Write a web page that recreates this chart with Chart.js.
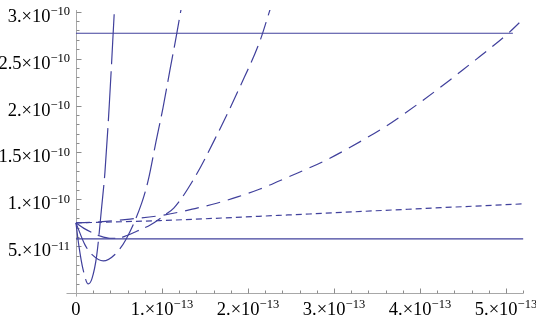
<!DOCTYPE html>
<html>
<head>
<meta charset="utf-8">
<script src="https://cdn.jsdelivr.net/npm/chart.js@4.4.1/dist/chart.umd.min.js"></script>
<style>
  html, body { margin: 0; padding: 0; background: #fff; }
  #wrap { width: 536px; height: 322px; }
</style>
</head>
<body>
<div id="wrap"><canvas id="chart"></canvas></div>
<script>
// x in units of 1e-13, y in units of 1e-11
const curveA_x = [0, 0.035, 0.081, 0.143, 0.186, 0.241, 0.299, 0.337, 0.387, 0.447]
const curveA_y = [7.49, 5.0, 2.6, 0.99, 1.55, 4.0, 9.2, 12.9, 20.0, 30.2]

const curveB_x = [0, 0.105, 0.194, 0.317, 0.453, 0.581, 0.764, 0.841, 0.930, 1.012, 1.093, 1.163, 1.221]
const curveB_y = [7.49, 5.15, 4.06, 3.44, 4.13, 5.73, 9.6, 12.07, 16.12, 19.75, 23.8, 27.21, 30.2]

const curveC_x = [0, 0.093, 0.183, 0.279, 0.395, 0.488, 0.593, 0.706, 0.869, 1.035, 1.140, 1.364, 1.636, 1.907, 2.140, 2.256]
const curveC_y = [7.49, 6.91, 6.48, 6.1, 5.86, 5.86, 6.15, 6.6, 7.3, 8.35, 9.09, 12.07, 16.8, 22.0, 26.9, 30.2]

const curveD_x = [0, 0.279, 0.628, 1.035, 1.384, 1.636, 1.887, 2.140, 2.469, 2.872, 3.148, 3.613, 3.962, 4.349, 4.581, 4.794, 5.047, 5.209]
const curveD_y = [7.49, 7.6, 7.9, 8.35, 9.02, 9.59, 10.29, 11.1, 12.39, 14.02, 15.35, 17.85, 20.07, 22.73, 24.4, 25.93, 27.88, 29.31]

const curveE_x = [0, 0.977, 2.465, 3.860, 5.198]
const curveE_y = [7.49, 7.74, 8.34, 8.95, 9.52]

const levelHigh_x = [0, 5.08]
const levelHigh_y = [27.7, 27.7]
const levelLow_x = [0, 5.2]
const levelLow_y = [5.79, 5.79]

const xTickValues = [0, 1, 2, 3, 4, 5]
const xTickMant = ['0', '1.', '2.', '3.', '4.', '5.']
const xTickExp = ['', '\u221213', '\u221213', '\u221213', '\u221213', '\u221213']

const yTickValues = [5, 10, 15, 20, 25, 30]
const yTickMant = ['5.', '1.', '1.5', '2.', '2.5', '3.']
const yTickExp = ['\u221211', '\u221210', '\u221210', '\u221210', '\u221210', '\u221210']

const X_MIN = -0.11, X_MAX = 5.349, X_AXIS_END = 5.2
const Y_MIN = -0.36, Y_MAX = 30.18

const LINE_COLOR = 'rgb(64,64,156)'
const AXIS_COLOR = '#a8a8a8'
const TICK_COLOR = '#8c8c8c'
const MAIN_FONT = '18.5px "Liberation Serif", "DejaVu Serif", serif'
const SUP_FONT = '12.5px "Liberation Serif", "DejaVu Serif", serif'


function toPoints(xs, ys) {
    return xs.map((x, i) => ({ x: x, y: ys[i] }))
}

function curve(xs, ys, dash) {
    return {
        data: toPoints(xs, ys),
        showLine: true,
        borderColor: LINE_COLOR,
        borderWidth: 1.2,
        borderDash: dash,
        pointRadius: 0,
        cubicInterpolationMode: 'monotone',
        fill: false
    }
}

function drawSciLabel(ctx, mant, exp, x, baseY, align) {
    const main = exp ? mant + '\u00d710' : mant
    ctx.font = MAIN_FONT
    const wMain = ctx.measureText(main).width
    ctx.font = SUP_FONT
    const wExp = exp ? ctx.measureText(exp).width : 0
    const total = wMain + wExp
    const left = align === 'center' ? x - total / 2 : x - total
    ctx.font = MAIN_FONT
    ctx.fillText(main, left, baseY)
    if (exp) {
        ctx.font = SUP_FONT
        ctx.fillText(exp, left + wMain, baseY - 6.5)
    }
}

const axesPlugin = {
    id: 'mmaAxes',
    beforeDatasetsDraw(chart) {
        const ctx = chart.ctx
        const xs = chart.scales.x
        const ys = chart.scales.y
        const ox = Math.round(xs.getPixelForValue(0)) + 0.5
        const oy = Math.round(ys.getPixelForValue(0)) + 0.5

        ctx.save()
        // axis lines
        ctx.strokeStyle = AXIS_COLOR
        ctx.lineWidth = 1
        ctx.beginPath()
        ctx.moveTo(xs.left, oy)
        ctx.lineTo(xs.getPixelForValue(X_AXIS_END), oy)
        ctx.moveTo(ox, ys.bottom)
        ctx.lineTo(ox, ys.top)
        ctx.stroke()

        // tick marks, drawn inward
        ctx.strokeStyle = TICK_COLOR
        ctx.beginPath()
        for (let i = 1; i <= 26; i++) {
            const px = Math.round(xs.getPixelForValue(i * 0.2)) + 0.5
            const len = (i % 5 === 0) ? 5 : 3
            ctx.moveTo(px, oy)
            ctx.lineTo(px, oy - len)
        }
        for (let i = 1; i <= 30; i++) {
            const py = Math.round(ys.getPixelForValue(i)) + 0.5
            const len = (i % 5 === 0) ? 5 : 3
            ctx.moveTo(ox, py)
            ctx.lineTo(ox + len, py)
        }
        ctx.stroke()

        // tick labels
        ctx.fillStyle = '#000'
        ctx.textAlign = 'left'
        ctx.textBaseline = 'alphabetic'
        xTickValues.forEach((v, i) => {
            drawSciLabel(ctx, xTickMant[i], xTickExp[i], xs.getPixelForValue(v), oy + 21, 'center')
        })
        yTickValues.forEach((v, i) => {
            drawSciLabel(ctx, yTickMant[i], yTickExp[i], ox - 6.5, ys.getPixelForValue(v) + 10, 'right')
        })
        ctx.restore()
    }
}

function draw() {
    new Chart(document.getElementById('chart'), {
        type: 'scatter',
        data: {
            datasets: [
                curve(levelHigh_x, levelHigh_y, []),
                curve(levelLow_x, levelLow_y, []),
                curve(curveA_x, curveA_y, [50, 7]),
                curve(curveB_x, curveB_y, [28, 7]),
                curve(curveC_x, curveC_y, [18, 7]),
                curve(curveD_x, curveD_y, [14, 8]),
                curve(curveE_x, curveE_y, [6, 4])
            ]
        },
        options: {
            responsive: true,
            maintainAspectRatio: false,
            animation: false,
            layout: { padding: { left: 66.5, right: 0, top: 10, bottom: 25.4 } },
            plugins: {
                legend: { display: false },
                tooltip: { enabled: false }
            },
            scales: {
                x: { type: 'linear', display: false, min: X_MIN, max: X_MAX },
                y: { type: 'linear', display: false, min: Y_MIN, max: Y_MAX }
            }
        },
        plugins: [axesPlugin]
    })
}

Promise.all([document.fonts.load(MAIN_FONT), document.fonts.load(SUP_FONT)])
    .catch(() => null)
    .then(draw)
</script>
</body>
</html>
